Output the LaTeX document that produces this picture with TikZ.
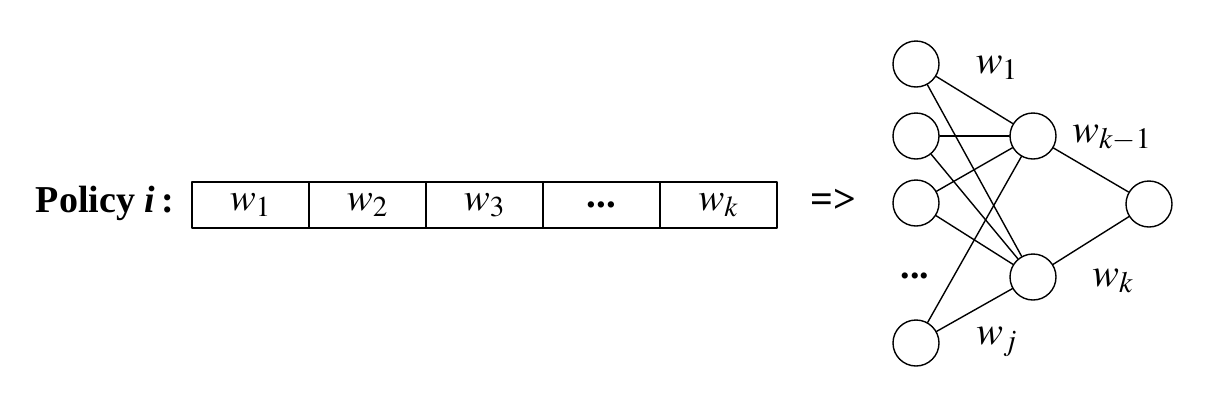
\documentclass[tikz,border=0pt]{standalone}
\usepackage{mathptmx}
\usepackage{fontspec}
\setmainfont{Liberation Serif}
\usepackage{tikz}
\usetikzlibrary{positioning}

\begin{document}
\begin{tikzpicture}[x=0.5pt,y=-0.5pt,line cap=round,line join=round,line width=0.7pt,
cell/.style={draw,minimum width=58.5pt,minimum height=23pt,inner sep=0pt,outer sep=0pt,font=\fontsize{19.5}{22}\selectfont},
neuron/.style={draw,circle,minimum size=23pt,inner sep=0pt},
wlabel/.style={font=\fontsize{20}{23}\selectfont}]
\useasboundingbox (0,0) rectangle (1220,408);
\node[font=\fontsize{19}{22}\selectfont\bfseries] (pol) at (105,203) {Policy \textit{i}\,:};
\node[cell,anchor=north west] (c1) at (192,182) {$w_1$};
\node[cell,right=0pt of c1] (c2) {$w_2$};
\node[cell,right=0pt of c2] (c3) {$w_3$};
\node[cell,right=0pt of c3] (c4) {\textbf{...}};
\node[cell,right=0pt of c4] (c5) {$w_k$};
\node[font=\fontsize{20}{23}\selectfont\bfseries] (imp) at (833,201) {=>};
\node[neuron] (in1) at (916,64) {};
\node[neuron] (in2) at (916,136) {};
\node[neuron] (in3) at (916,203) {};
\node[neuron] (in4) at (916,343) {};
\node[font=\fontsize{19}{22}\selectfont\bfseries] (dots) at (915,276) {...};
\node[neuron] (h1) at (1033,136) {};
\node[neuron] (h2) at (1033,277) {};
\node[neuron] (out) at (1149,204) {};
\foreach \i in {1,...,4} {
\draw (in\i) -- (h1);
\draw (in\i) -- (h2);
}
\draw (h1) -- (out);
\draw (h2) -- (out);
\node[wlabel] (l1) at (997,68) {$w_1$};
\node[wlabel] (lk1) at (1112,138) {$w_{k-1}$};
\node[wlabel] (lk) at (1113,281) {$w_k$};
\node[wlabel] (lj) at (997,342) {$w_j$};
\end{tikzpicture}
\end{document}
